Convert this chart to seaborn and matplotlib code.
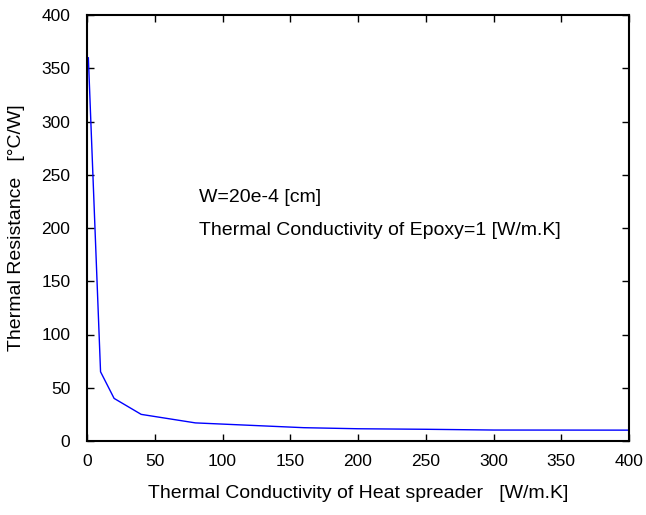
import matplotlib
matplotlib.use('Agg')
import matplotlib.pyplot as plt
import pandas as pd
import seaborn as sns

# Valores
condutividade = [1, 10, 20, 40, 80, 160, 200, 250, 300, 400]
resistencia = [360, 65, 40, 25, 17, 12.5, 11.5, 11, 10.3, 10.2]

x_ticks = [0, 50, 100, 150, 200, 250, 300, 350, 400]
y_ticks = [0, 50, 100, 150, 200, 250, 300, 350, 400]

sns.set_style("ticks")
plt.rcParams['font.family'] = ['Liberation Sans', 'DejaVu Sans']
plt.rcParams['text.color'] = 'black'
plt.rcParams['axes.labelcolor'] = 'black'
plt.rcParams['xtick.color'] = 'black'
plt.rcParams['ytick.color'] = 'black'

df = pd.DataFrame({'k': condutividade, 'R': resistencia})

fig = plt.figure(figsize=(6.46, 5.15), dpi=100)
ax = fig.add_axes([87 / 646, 74 / 515, 542 / 646, 426 / 515])

sns.lineplot(data=df, x='k', y='R', ax=ax, color='blue', linewidth=1.0)

ax.set_xlim(0, 400)
ax.set_ylim(0, 400)
ax.set_xticks(x_ticks)
ax.set_yticks(y_ticks)
ax.tick_params(direction='in', length=5, width=1, labelsize=12.5,
               top=True, right=True)
ax.tick_params(axis='y', pad=12)
ax.tick_params(axis='x', pad=9)
for s in ax.spines.values():
    s.set_linewidth(1.5)
    s.set_color('black')
    s.set_visible(True)

ax.set_xlabel('Thermal Conductivity of Heat spreader   [W/m.K]', fontsize=14, labelpad=12)
ax.set_ylabel('Thermal Resistance   [°C/W]', fontsize=14, labelpad=12)

ax.text(83, 229, 'W=20e-4 [cm]', fontsize=14, va='center')
ax.text(83, 198, 'Thermal Conductivity of Epoxy=1 [W/m.K]', fontsize=14, va='center')

plt.savefig('out.png', dpi=100)
plt.close()
